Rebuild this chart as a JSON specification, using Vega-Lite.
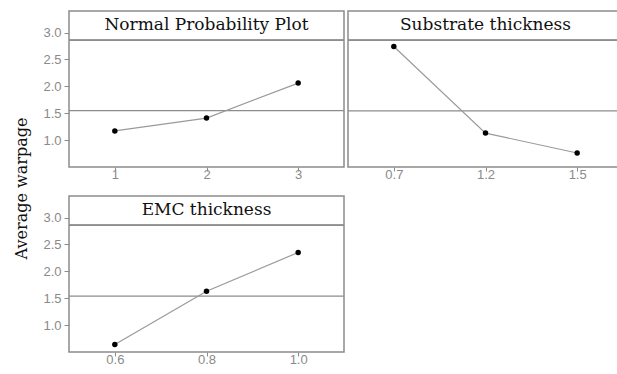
{
  "$schema": "https://vega.github.io/schema/vega-lite/v6.json",
  "padding": {"left": 14, "top": 10, "right": 0, "bottom": 0},
  "background": "white",
  "title": {"text": "Average warpage", "orient": "left", "anchor": "middle", "font": "DejaVu Serif", "fontSize": 16, "fontWeight": "normal", "color": "#111111", "offset": 12},
  "data": {
    "values": [
      {"factor": "Normal Probability Plot", "level": "1", "warpage": 1.17},
      {"factor": "Normal Probability Plot", "level": "2", "warpage": 1.41},
      {"factor": "Normal Probability Plot", "level": "3", "warpage": 2.06},
      {"factor": "Substrate thickness", "level": "0.7", "warpage": 2.74},
      {"factor": "Substrate thickness", "level": "1.2", "warpage": 1.13},
      {"factor": "Substrate thickness", "level": "1.5", "warpage": 0.76},
      {"factor": "EMC thickness", "level": "0.6", "warpage": 0.64},
      {"factor": "EMC thickness", "level": "0.8", "warpage": 1.63},
      {"factor": "EMC thickness", "level": "1.0", "warpage": 2.35}
    ]
  },
  "spacing": 13,
  "vconcat": [
    {
      "spacing": 0,
      "hconcat": [
        {
          "width": 275,
          "height": 156,
          "transform": [{"filter": "datum.factor === 'Normal Probability Plot'"}],
          "layer": [
            {"mark": {"type": "rule", "color": "#8c8c8c", "strokeWidth": 1.3},
              "encoding": {"y": {"datum": 2.86, "type": "quantitative", "scale": {"domain": [0.5, 3.4], "nice": false, "zero": false},
                "axis": {"title": null, "values": [1, 1.5, 2, 2.5, 3], "format": ".1f", "labelOverlap": false, "grid": false, "domain": false, "tickColor": "#8c8c8c", "tickSize": 5, "labelPadding": 3}}}},
            {
              "transform": [{"aggregate": [{"op": "count", "as": "n"}], "groupby": ["factor"]}],
              "mark": {"type": "text", "font": "DejaVu Serif", "fontSize": 17, "color": "#111111", "baseline": "middle"},
              "encoding": {"text": {"field": "factor", "type": "nominal"},
                "y": {"datum": 3.14, "type": "quantitative", "axis": {"title": null, "values": [1, 1.5, 2, 2.5, 3], "format": ".1f", "labelOverlap": false, "grid": false, "domain": false, "tickColor": "#8c8c8c", "tickSize": 5, "labelPadding": 3}}}
            },
            {"mark": {"type": "rule", "color": "#8c8c8c", "strokeWidth": 1.2},
              "encoding": {"y": {"aggregate": "mean", "field": "warpage", "type": "quantitative", "axis": {"title": null, "values": [1, 1.5, 2, 2.5, 3], "format": ".1f", "labelOverlap": false, "grid": false, "domain": false, "tickColor": "#8c8c8c", "tickSize": 5, "labelPadding": 3}}}},
            {"mark": {"type": "line", "color": "#9a9a9a", "strokeWidth": 1.2},
              "encoding": {"x": {"field": "level", "type": "ordinal"},
                "y": {"field": "warpage", "type": "quantitative", "axis": {"title": null, "values": [1, 1.5, 2, 2.5, 3], "format": ".1f", "labelOverlap": false, "grid": false, "domain": false, "tickColor": "#8c8c8c", "tickSize": 5, "labelPadding": 3}}}},
            {
              "mark": {"type": "circle", "color": "#000000", "opacity": 1, "size": 30},
              "encoding": {
                "x": {"field": "level", "type": "ordinal", "scale": {"type": "point", "padding": 0.5},
                  "axis": {"title": null, "labelAngle": 0, "labelAlign": "center", "domain": false, "tickColor": "#8c8c8c", "tickSize": 4, "labelPadding": 3}},
                "y": {"field": "warpage", "type": "quantitative",
                  "axis": {"title": null, "values": [1, 1.5, 2, 2.5, 3], "format": ".1f", "labelOverlap": false, "grid": false, "domain": false, "tickColor": "#8c8c8c", "tickSize": 5, "labelPadding": 3}}
              }
            }
          ]
        },
        {
          "width": 275,
          "height": 156,
          "transform": [{"filter": "datum.factor === 'Substrate thickness'"}],
          "layer": [
            {"mark": {"type": "rule", "color": "#8c8c8c", "strokeWidth": 1.3},
              "encoding": {"y": {"datum": 2.86, "type": "quantitative", "scale": {"domain": [0.5, 3.4], "nice": false, "zero": false},
                "axis": {"title": null, "labels": false, "ticks": false, "domain": false, "grid": false}}}},
            {
              "transform": [{"aggregate": [{"op": "count", "as": "n"}], "groupby": ["factor"]}],
              "mark": {"type": "text", "font": "DejaVu Serif", "fontSize": 17, "color": "#111111", "baseline": "middle"},
              "encoding": {"text": {"field": "factor", "type": "nominal"},
                "y": {"datum": 3.14, "type": "quantitative", "axis": {"title": null, "labels": false, "ticks": false, "domain": false, "grid": false}}}
            },
            {"mark": {"type": "rule", "color": "#8c8c8c", "strokeWidth": 1.2},
              "encoding": {"y": {"aggregate": "mean", "field": "warpage", "type": "quantitative", "axis": {"title": null, "labels": false, "ticks": false, "domain": false, "grid": false}}}},
            {"mark": {"type": "line", "color": "#9a9a9a", "strokeWidth": 1.2},
              "encoding": {"x": {"field": "level", "type": "ordinal"},
                "y": {"field": "warpage", "type": "quantitative", "axis": {"title": null, "labels": false, "ticks": false, "domain": false, "grid": false}}}},
            {
              "mark": {"type": "circle", "color": "#000000", "opacity": 1, "size": 30},
              "encoding": {
                "x": {"field": "level", "type": "ordinal", "scale": {"type": "point", "padding": 0.5},
                  "axis": {"title": null, "labelAngle": 0, "labelAlign": "center", "domain": false, "tickColor": "#8c8c8c", "tickSize": 4, "labelPadding": 3}},
                "y": {"field": "warpage", "type": "quantitative", "axis": {"title": null, "labels": false, "ticks": false, "domain": false, "grid": false}}
              }
            }
          ]
        }
      ]
    },
    {
      "width": 275,
      "height": 156,
      "transform": [{"filter": "datum.factor === 'EMC thickness'"}],
      "layer": [
        {"mark": {"type": "rule", "color": "#8c8c8c", "strokeWidth": 1.3},
          "encoding": {"y": {"datum": 2.86, "type": "quantitative", "scale": {"domain": [0.5, 3.4], "nice": false, "zero": false},
            "axis": {"title": null, "values": [1, 1.5, 2, 2.5, 3], "format": ".1f", "labelOverlap": false, "grid": false, "domain": false, "tickColor": "#8c8c8c", "tickSize": 5, "labelPadding": 3}}}},
        {
          "transform": [{"aggregate": [{"op": "count", "as": "n"}], "groupby": ["factor"]}],
          "mark": {"type": "text", "font": "DejaVu Serif", "fontSize": 17, "color": "#111111", "baseline": "middle"},
          "encoding": {"text": {"field": "factor", "type": "nominal"},
            "y": {"datum": 3.14, "type": "quantitative", "axis": {"title": null, "values": [1, 1.5, 2, 2.5, 3], "format": ".1f", "labelOverlap": false, "grid": false, "domain": false, "tickColor": "#8c8c8c", "tickSize": 5, "labelPadding": 3}}}
        },
        {"mark": {"type": "rule", "color": "#8c8c8c", "strokeWidth": 1.2},
          "encoding": {"y": {"aggregate": "mean", "field": "warpage", "type": "quantitative", "axis": {"title": null, "values": [1, 1.5, 2, 2.5, 3], "format": ".1f", "labelOverlap": false, "grid": false, "domain": false, "tickColor": "#8c8c8c", "tickSize": 5, "labelPadding": 3}}}},
        {"mark": {"type": "line", "color": "#9a9a9a", "strokeWidth": 1.2},
          "encoding": {"x": {"field": "level", "type": "ordinal"},
            "y": {"field": "warpage", "type": "quantitative", "axis": {"title": null, "values": [1, 1.5, 2, 2.5, 3], "format": ".1f", "labelOverlap": false, "grid": false, "domain": false, "tickColor": "#8c8c8c", "tickSize": 5, "labelPadding": 3}}}},
        {
          "mark": {"type": "circle", "color": "#000000", "opacity": 1, "size": 30},
          "encoding": {
            "x": {"field": "level", "type": "ordinal", "scale": {"type": "point", "padding": 0.5},
              "axis": {"title": null, "labelAngle": 0, "labelAlign": "center", "domain": false, "tickColor": "#8c8c8c", "tickSize": 4, "labelPadding": 3}},
            "y": {"field": "warpage", "type": "quantitative",
              "axis": {"title": null, "values": [1, 1.5, 2, 2.5, 3], "format": ".1f", "labelOverlap": false, "grid": false, "domain": false, "tickColor": "#8c8c8c", "tickSize": 5, "labelPadding": 3}}
          }
        }
      ]
    }
  ],
  "config": {
    "view": {"stroke": "#8c8c8c", "strokeWidth": 1.5},
    "axis": {
      "labelFont": "Liberation Sans",
      "labelFontSize": 13,
      "labelColor": "#8a8a8a"
    }
  }
}
